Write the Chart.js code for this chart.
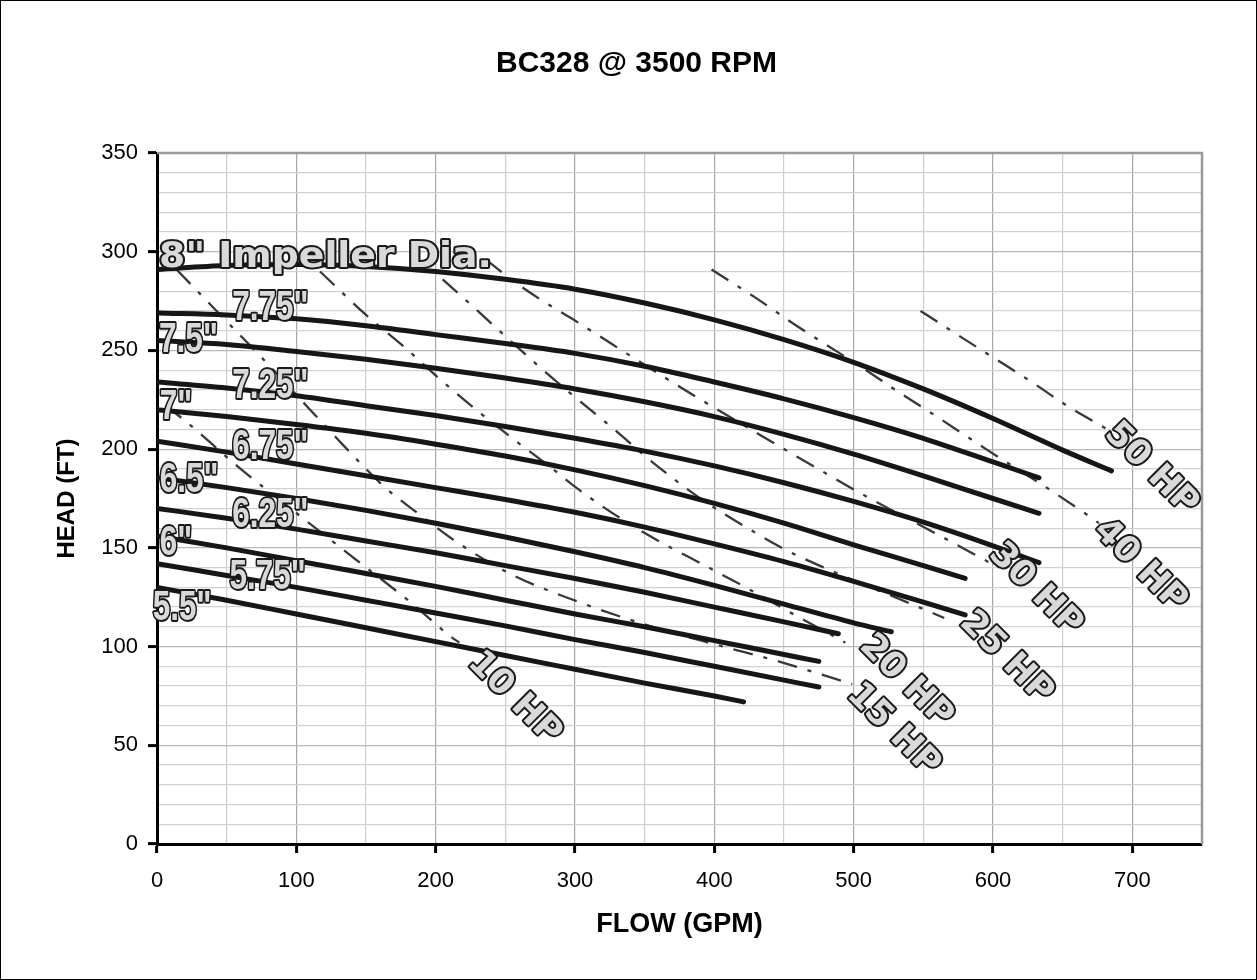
<!DOCTYPE html>
<html>
<head>
<meta charset="utf-8">
<title>BC328 @ 3500 RPM</title>
<script src="https://cdn.jsdelivr.net/npm/chart.js@4.4.1/dist/chart.umd.min.js"></script>
<style>
  html, body { margin: 0; padding: 0; background: #fff; }
  #frame { width: 1257px; height: 980px; box-sizing: border-box; border: 1px solid #000; }
  canvas { display: block; }
</style>
</head>
<body>
<div id="frame"><canvas id="pumpChart" width="1255" height="978"></canvas></div>
<script>
// impeller curves, [flow GPM, head FT]
const imp800 = [[0,291],[50,293],[100,293.5],[150,292.5],[200,290],[250,286],[300,281],[350,274],[400,265.5],[450,255.5],[500,244],[550,230.5],[600,215.5],[650,199.5],[685,189]];
const imp775 = [[0,269],[50,268],[100,266],[150,262.5],[200,258],[250,253.5],[300,248.5],[350,242],[400,234],[450,225.5],[500,216],[550,205.5],[600,193.5],[633,185.5]];
const imp750 = [[0,255],[50,253],[100,249.5],[150,245.5],[200,241],[250,236],[300,230.5],[350,224],[400,216.5],[450,207.5],[500,197.5],[550,186.5],[600,175],[633,167.5]];
const imp725 = [[0,234],[50,231],[100,227],[150,222],[200,217],[250,211.5],[300,205.5],[350,199],[400,191.5],[450,183],[500,173.5],[550,163],[600,151],[633,142.5]];
const imp700 = [[0,220],[50,216.5],[100,212.5],[150,208],[200,202.5],[250,196.5],[300,189.5],[350,181.5],[400,172.5],[450,162.5],[500,151.5],[550,141],[580,134.5]];
const imp675 = [[0,204],[50,198.5],[100,192.5],[150,186.5],[200,180.5],[250,174.5],[300,168],[350,160.5],[400,152],[450,143],[500,133],[550,122.5],[580,116]];
const imp650 = [[0,185.5],[50,180.5],[100,175],[150,169],[200,162.5],[250,155.5],[300,148],[350,140],[400,131],[450,121.5],[500,112],[527,107.5]];
const imp625 = [[0,170],[50,165],[100,159.5],[150,153.5],[200,147.5],[250,141],[300,134.5],[350,127.5],[400,120],[450,112.5],[489,106.5]];
const imp600 = [[0,156],[50,150],[100,143.5],[150,137],[200,130.5],[250,123.5],[300,116.5],[350,110],[400,103],[450,96],[475,92.5]];
const imp575 = [[0,142],[50,136],[100,130],[150,123.5],[200,117],[250,110.5],[300,103.5],[350,97],[400,90],[450,83],[475,79.5]];
const imp550 = [[0,130],[50,123.5],[100,116.5],[150,109.5],[200,102.5],[250,95.5],[300,88.5],[350,81.5],[400,75],[421,72]];

// horsepower lines
const hp10 = [[6,222],[19,215],[60,190],[103,166],[141,145],[181,123],[210,105.5],[217,102]];
const hp15 = [[14,291],[40,272],[79,243.5],[100,227.5],[131,204],[150,190],[163,181],[190,166],[215,153],[253,137],[305,122],[351,111],[401,101],[446,92.5],[499,81]];
const hp20 = [[117,290],[150,268],[177,252],[203,235.5],[229,220],[255,205.5],[284,190],[298,182],[325,168.5],[355,155.5],[396,140],[425,129],[454,117.5],[494,102]];
const hp25 = [[205,286],[231,269.5],[248,258.5],[274,242],[298,227.5],[317,216.5],[334,206.5],[346,199],[368,186.5],[391,174.5],[425,159.5],[454,148],[482,139],[502,133],[540,122],[565,114.5]];
const hp30 = [[236,296],[258,284],[277,275],[298,266],[317,257.5],[337,248.5],[365,236],[394,223.5],[425,210.5],[461,195.5],[477,189],[504,178],[561,156.5],[599,142]];
const hp40 = [[398,291],[430,276.5],[459,262.5],[489,249],[509,240],[532,229],[552,220],[580,207],[595,200],[633,183],[664,168.5],[676,162.5]];
const hp50 = [[548,270],[570,260],[591,250.5],[609,242.5],[631,232.5],[652,222.5],[681,210.5]];

const impCurves = [imp800, imp775, imp750, imp725, imp700, imp675, imp650, imp625, imp600, imp575, imp550];
const hpCurves = [hp10, hp15, hp20, hp25, hp30, hp40, hp50];

const impNames = ['8" Impeller Dia.', '7.75"', '7.5"', '7.25"', '7"', '6.75"', '6.5"', '6.25"', '6"', '5.75"', '5.5"'];
const hpNames = ['10 HP', '15 HP', '20 HP', '25 HP', '30 HP', '40 HP', '50 HP'];

// where the labels sit, in axis units
const impLabelFlow = [1.5, 54, 1.5, 54, 2, 54, 2, 54, 2, 52, -3];
const impLabelHead = [296.8, 271.5, 255.3, 232, 221.3, 201.1, 184.4, 166.6, 152, 135.2, 119.5];
const hpLabelFlow = [227, 499, 508, 580, 601, 676, 684];
const hpLabelHead = [94.5, 78.5, 103, 115, 149.5, 161.5, 210.5];

function toPoints(pairs) {
  return pairs.map(p => ({ x: p[0], y: p[1] }));
}

const datasets = [];
impCurves.forEach(c => {
  datasets.push({
    data: toPoints(c),
    borderColor: '#161616',
    borderWidth: 5,
    borderCapStyle: 'round',
    cubicInterpolationMode: 'monotone'
  });
});
hpCurves.forEach(c => {
  datasets.push({
    data: toPoints(c),
    borderColor: '#383838',
    borderWidth: 2.3,
    borderDash: [20, 11, 4, 11],
    cubicInterpolationMode: 'monotone'
  });
});

function outlinedText(ctx, text, x, y, font, scaleX, angle) {
  ctx.save();
  ctx.translate(x, y);
  ctx.rotate(angle);
  ctx.scale(scaleX, 1);
  ctx.font = font;
  ctx.textAlign = 'left';
  ctx.textBaseline = 'middle';
  ctx.lineJoin = 'round';
  ctx.lineWidth = 4;
  ctx.strokeStyle = '#1a1a1a';
  ctx.strokeText(text, 0, 0);
  ctx.fillStyle = '#d9d9d9';
  ctx.fillText(text, 0, 0);
  ctx.restore();
}

const overlay = {
  id: 'overlay',
  beforeDatasetsDraw(chart) {
    const { ctx, chartArea: a } = chart;
    ctx.save();
    ctx.strokeStyle = '#9a9a9a';
    ctx.lineWidth = 2.5;
    ctx.beginPath();
    ctx.moveTo(a.left, a.top);
    ctx.lineTo(a.right, a.top);
    ctx.lineTo(a.right, a.bottom);
    ctx.stroke();
    ctx.restore();
  },
  afterDatasetsDraw(chart) {
    const ctx = chart.ctx;
    const xs = chart.scales.x, ys = chart.scales.y;
    impNames.forEach((t, i) => {
      const px = xs.getPixelForValue(impLabelFlow[i]);
      const py = ys.getPixelForValue(impLabelHead[i]);
      if (i === 0) {
        outlinedText(ctx, t, px, py, "bold 35px 'DejaVu Sans'", 1.08, 0);
      } else {
        outlinedText(ctx, t, px, py, "bold 42px 'Liberation Sans'", 0.75, 0);
      }
    });
    hpNames.forEach((t, i) => {
      const px = xs.getPixelForValue(hpLabelFlow[i]);
      const py = ys.getPixelForValue(hpLabelHead[i]);
      outlinedText(ctx, t, px, py, "bold 35px 'DejaVu Sans'", 1, Math.PI / 4);
    });
  }
};

Chart.defaults.font.family = "'Liberation Sans', Arial, sans-serif";
Chart.defaults.color = '#000';

new Chart(document.getElementById('pumpChart'), {
  type: 'line',
  data: { datasets: datasets },
  options: {
    responsive: false,
    animation: false,
    devicePixelRatio: 1,
    layout: { padding: { left: 70, right: 54, top: 0, bottom: 0 } },
    elements: { point: { radius: 0 } },
    plugins: {
      legend: { display: false },
      tooltip: { enabled: false },
      title: {
        display: true,
        text: 'BC328 @ 3500 RPM',
        color: '#000',
        font: { size: 30, weight: 'bold' },
        padding: { top: 45, bottom: 71 }
      }
    },
    scales: {
      x: {
        type: 'linear',
        min: 0,
        max: 750,
        ticks: {
          stepSize: 50,
          autoSkip: false,
          maxRotation: 0,
          padding: 15,
          font: { size: 22 },
          callback: v => (v % 100 === 0 ? v : '')
        },
        grid: {
          color: c => (c.tick && c.tick.value % 100 === 0 ? '#a8a8a8' : '#cdcdcd'),
          lineWidth: 1.2,
          tickLength: 9,
          tickColor: c => (c.tick && c.tick.value % 100 === 0 ? '#000' : 'rgba(0,0,0,0)'),
          tickWidth: 3
        },
        border: { color: '#000', width: 3 },
        title: {
          display: true,
          text: 'FLOW (GPM)',
          font: { size: 27, weight: 'bold' },
          padding: { top: 0, bottom: 38 }
        },
        afterFit(s) { s.height = 135; }
      },
      y: {
        min: 0,
        max: 350,
        ticks: {
          stepSize: 10,
          autoSkip: false,
          padding: 10,
          font: { size: 22 },
          callback: v => (v % 50 === 0 ? v : '')
        },
        grid: {
          color: c => (c.tick && c.tick.value % 50 === 0 ? '#b8b8b8' : '#d2d2d2'),
          lineWidth: 1.2,
          tickLength: 9,
          tickColor: c => (c.tick && c.tick.value % 50 === 0 ? '#000' : 'rgba(0,0,0,0)'),
          tickWidth: 3
        },
        border: { color: '#000', width: 3 },
        title: {
          display: true,
          text: 'HEAD (FT)',
          font: { size: 24, weight: 'bold' },
          padding: { top: -18, bottom: 0 }
        },
        afterFit(s) { s.width = 86; }
      }
    }
  },
  plugins: [overlay]
});
</script>
</body>
</html>
